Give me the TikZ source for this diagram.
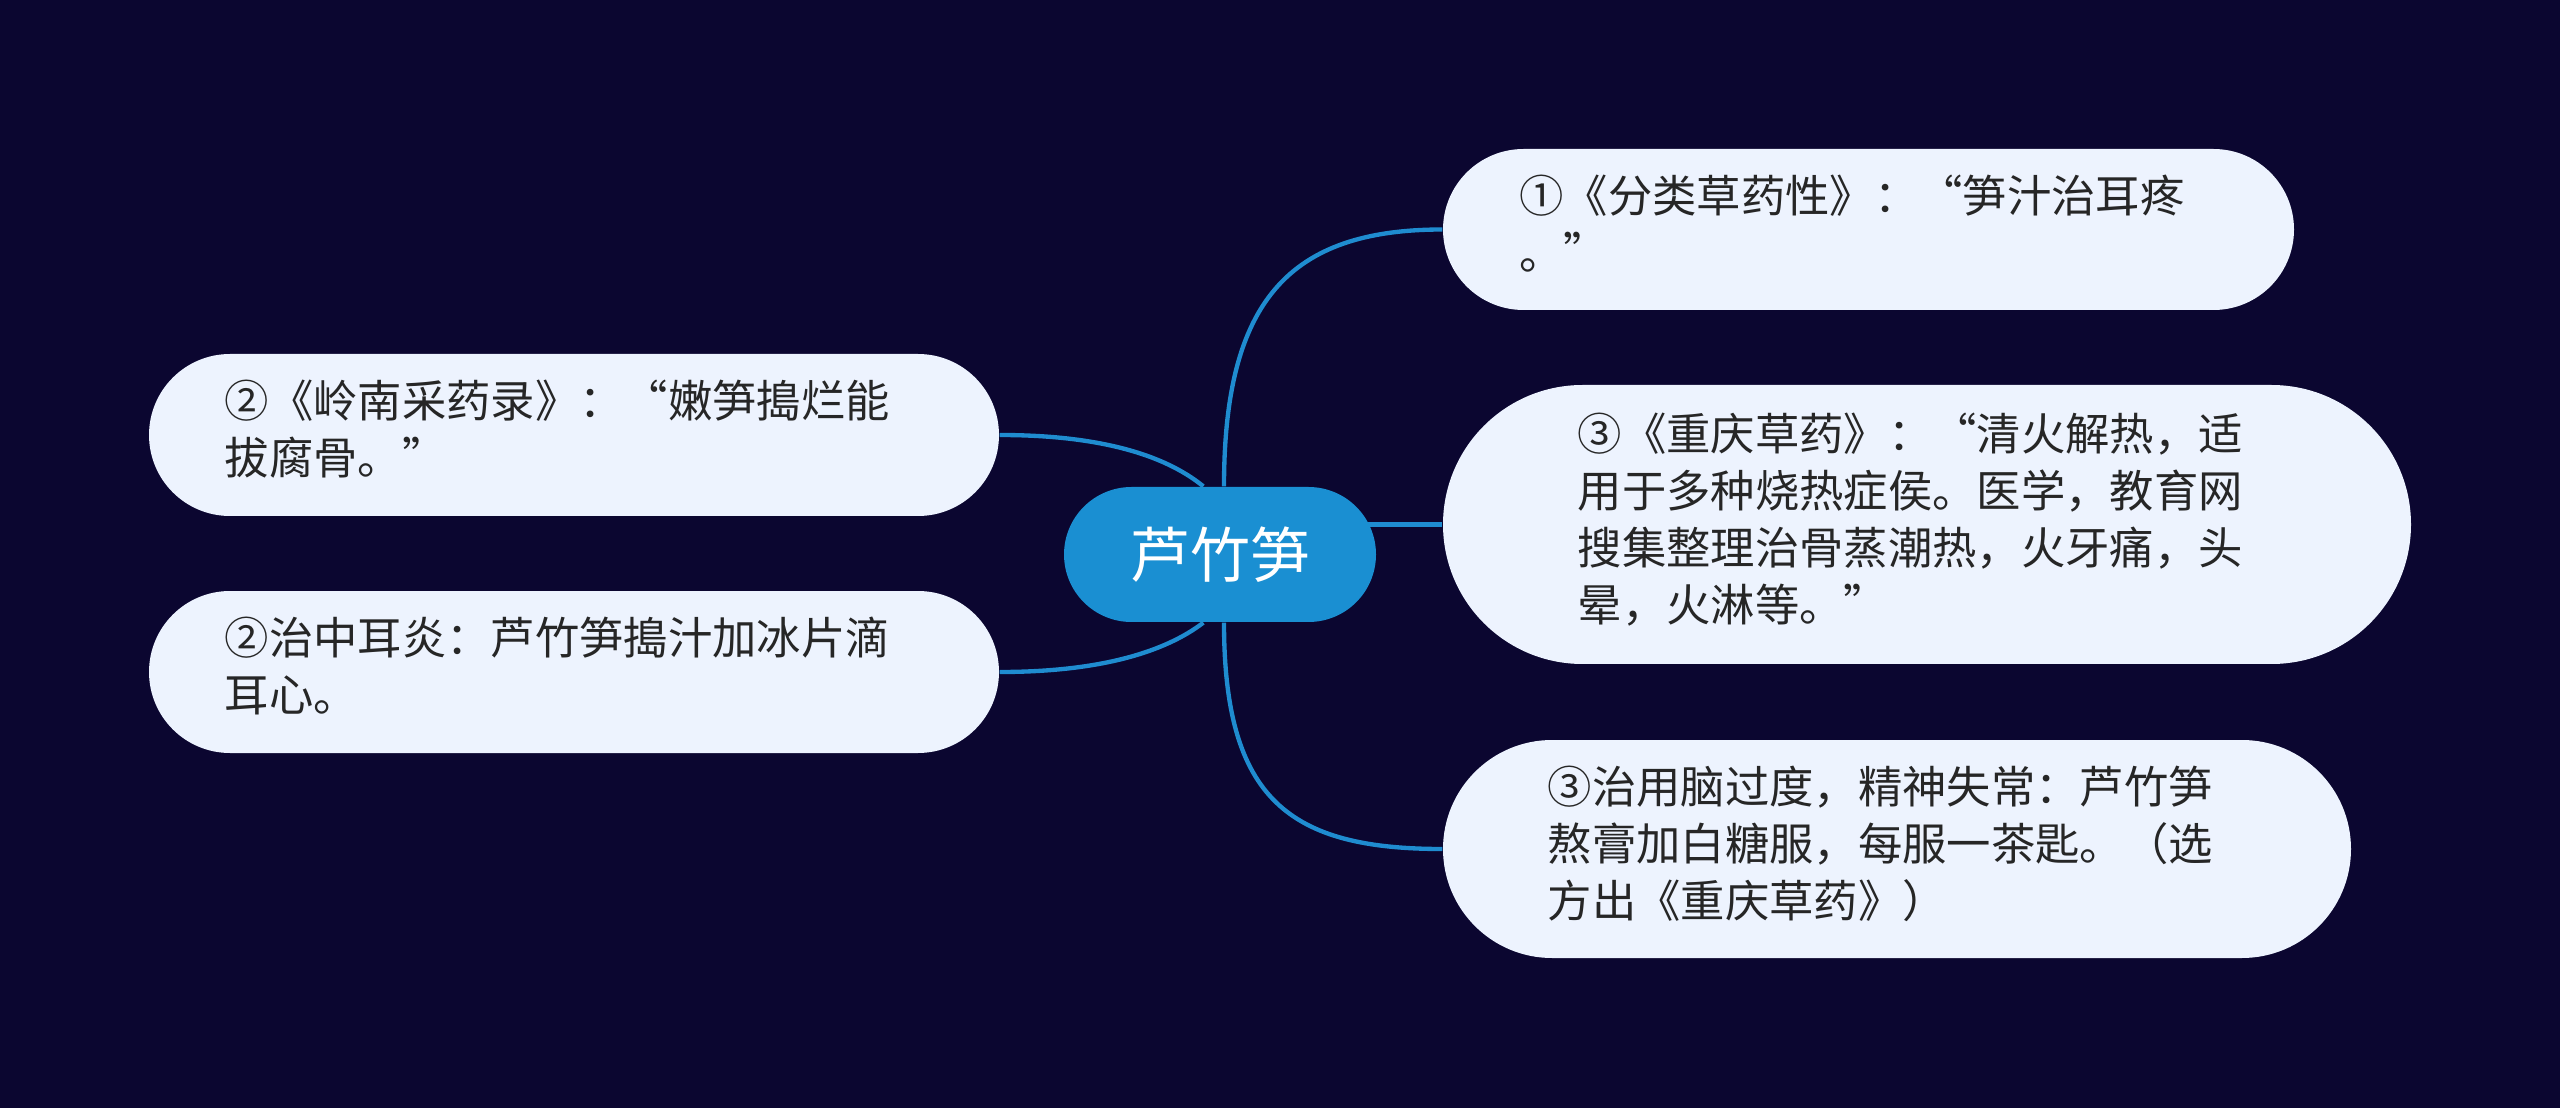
\documentclass[tikz,border=0pt]{standalone}
\usepackage{fontspec}
\newfontfamily\cjk{Noto Sans CJK SC}
\definecolor{bgc}{HTML}{0B0630}
\definecolor{rootc}{HTML}{1A8FD2}
\definecolor{linkc}{HTML}{1F8CD0}
\definecolor{boxc}{HTML}{EDF3FE}
\definecolor{txtc}{HTML}{262626}
\pgfdeclarelayer{bglayer}
\pgfdeclarelayer{linklayer}
\pgfsetlayers{bglayer,linklayer,main}
\newcommand{\leaftext}[1]{\begin{tabular}{@{}l@{}}#1\end{tabular}\rule{10pt}{0pt}}
\begin{document}
\begin{tikzpicture}[x=0.3pt,y=-0.3pt,
  rootnode/.style={rectangle, rounded corners=20.25pt, fill=rootc, text=white,
    font=\cjk\fontsize{18}{22}\selectfont, inner sep=0pt,
    minimum width=93.6pt, minimum height=40.5pt},
  leaf/.style={rectangle, fill=boxc, text=txtc,
    font=\cjk\fontsize{13.3}{17.1}\selectfont, inner sep=0pt},
  link/.style={draw=linkc, line width=1.3pt}]
\begin{pgfonlayer}{bglayer}
\fill[bgc] (0,0) rectangle (2560,1108);
\end{pgfonlayer}
\useasboundingbox (0,0) rectangle (2560,1108);

\node[rootnode] (c) at (1220,554.5) {芦竹笋};

\node[leaf, minimum width=255.3pt, minimum height=48.3pt, rounded corners=24.15pt] (n1) at (1868.5,229.5)
  {\leaftext{①《分类草药性》：“笋汁治耳疼\\。”}};
\node[leaf, minimum width=290.4pt, minimum height=83.7pt, rounded corners=41.85pt] (n3) at (1927,524.5)
  {\leaftext{③《重庆草药》：“清火解热，适\\用于多种烧热症侯。医学，教育网\\搜集整理治骨蒸潮热，火牙痛，头\\晕，火淋等。”}};
\node[leaf, minimum width=272.4pt, minimum height=65.4pt, rounded corners=32.7pt] (n4) at (1897,849)
  {\leaftext{③治用脑过度，精神失常：芦竹笋\\熬膏加白糖服，每服一茶匙。（选\\方出《重庆草药》）}};
\node[leaf, minimum width=255pt, minimum height=48.6pt, rounded corners=24.3pt] (n2a) at (574,435)
  {\leaftext{②《岭南采药录》：“嫩笋搗烂能\\拔腐骨。”}};
\node[leaf, minimum width=255pt, minimum height=48.6pt, rounded corners=24.3pt] (n2b) at (574,672)
  {\leaftext{②治中耳炎：芦竹笋搗汁加冰片滴\\耳心。}};

\begin{pgfonlayer}{linklayer}
\draw[link] ([xshift=1.2pt]c.north) .. controls (1224,300) and (1290,229.5) .. (n1.west);
\draw[link] (n3.west -| c.center) -- (n3.west);
\draw[link] ([xshift=1.2pt]c.south) .. controls (1224,800) and (1290,849) .. (n4.west);
\draw[link] (n2a.east) .. controls (1100,435) and (1165,455) .. ([xshift=-5pt]c.north);
\draw[link] (n2b.east) .. controls (1100,672) and (1165,652) .. ([xshift=-5pt]c.south);
\end{pgfonlayer}
\end{tikzpicture}
\end{document}
